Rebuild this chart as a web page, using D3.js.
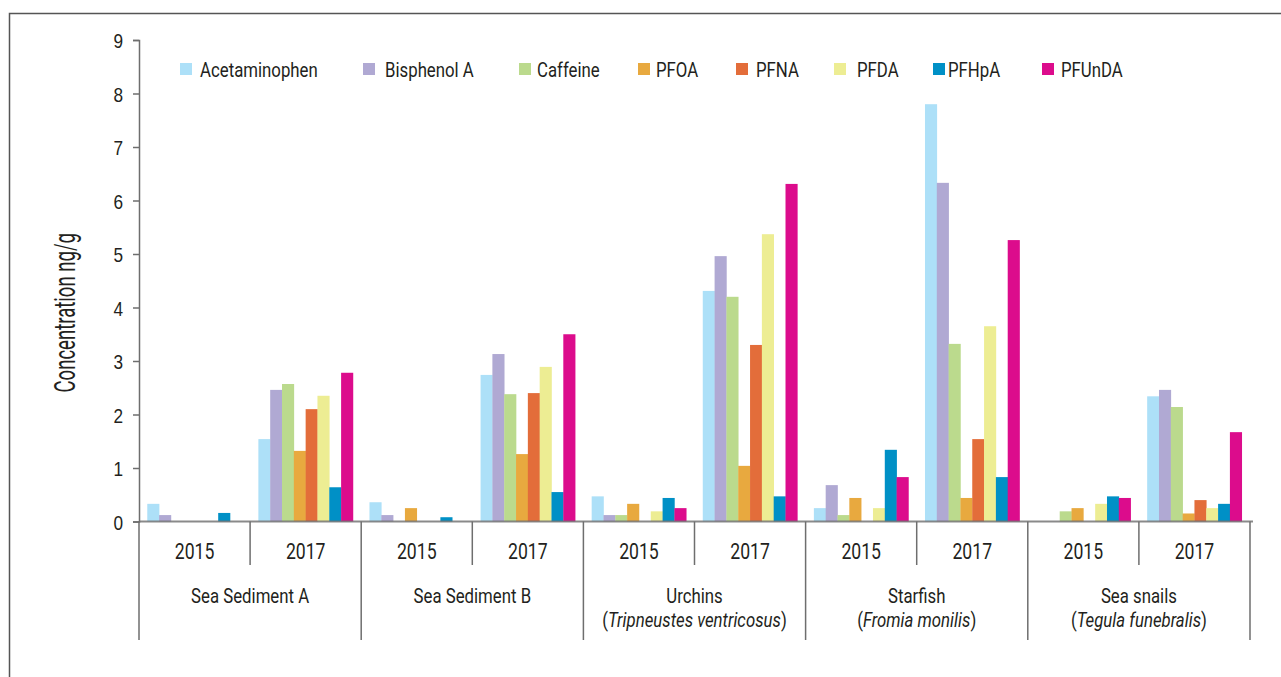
<!DOCTYPE html>
<html>
<head>
<meta charset="utf-8">
<script src="https://cdn.jsdelivr.net/npm/d3@7"></script>
<style>
	body { margin: 0; background: #fff; }
	svg { display: block; font-family: 'Liberation Sans Narrow', 'Arial Narrow', 'Roboto', sans-serif; }
</style>
</head>
<body>
<div id="chart"></div>
<script>
const series = ['Acetaminophen', 'Bisphenol A', 'Caffeine', 'PFOA', 'PFNA', 'PFDA', 'PFHpA', 'PFUnDA'];
const colors = ['#ade0f8', '#b0a9d3', '#bbda8d', '#e8a93f', '#e36d3a', '#eded93', '#0090c6', '#dc0c8c'];
const sites = ['Sea Sediment A', 'Sea Sediment B', 'Urchins', 'Starfish', 'Sea snails'];
const species = ['', '', 'Tripneustes ventricosus', 'Fromia monilis', 'Tegula funebralis'];
const years = ['2015', '2017'];
const yTicks = [0, 1, 2, 3, 4, 5, 6, 7, 8, 9];

// one row per site/year, values in series order
const seaSedimentA2015 = [0.33, 0.12, 0, 0, 0, 0, 0.16, 0];
const seaSedimentA2017 = [1.54, 2.46, 2.57, 1.32, 2.10, 2.35, 0.64, 2.78];
const seaSedimentB2015 = [0.36, 0.12, 0, 0.25, 0, 0, 0.08, 0];
const seaSedimentB2017 = [2.74, 3.13, 2.38, 1.26, 2.40, 2.89, 0.55, 3.50];
const urchins2015 = [0.47, 0.12, 0.12, 0.33, 0, 0.19, 0.44, 0.25];
const urchins2017 = [4.31, 4.96, 4.20, 1.04, 3.30, 5.37, 0.47, 6.31];
const starfish2015 = [0.25, 0.68, 0.12, 0.44, 0, 0.25, 1.34, 0.83];
const starfish2017 = [7.80, 6.33, 3.32, 0.44, 1.54, 3.65, 0.83, 5.26];
const seaSnails2015 = [0, 0, 0.19, 0.25, 0, 0.33, 0.47, 0.44];
const seaSnails2017 = [2.34, 2.46, 2.14, 0.15, 0.40, 0.25, 0.33, 1.67];

const values = [
	[seaSedimentA2015, seaSedimentA2017],
	[seaSedimentB2015, seaSedimentB2017],
	[urchins2015, urchins2017],
	[starfish2015, starfish2017],
	[seaSnails2015, seaSnails2017]
];

const width = 1281, height = 677;
const plot = { left: 139, right: 1250, top: 40, bottom: 521.5 };
const axisColor = '#6e6e6e';
const textColor = '#231f20';
const narrow = 0.82; // horizontal squeeze to mimic a condensed face

const svg = d3.select('#chart').append('svg')
	.attr('width', width)
	.attr('height', height);

// places a squeezed text at x, y
function condensed(sel, x, y, sx = narrow) {
	return sel.attr('transform', `translate(${x},${y}) scale(${sx},1)`);
}

// frame
svg.append('path')
	.attr('d', `M9.5,${height} V13.5 H${width}`)
	.attr('fill', 'none')
	.attr('stroke', '#555')
	.attr('stroke-width', 1.5);

const y = d3.scaleLinear().domain([0, 9]).range([plot.bottom, plot.top]);
const x0 = d3.scaleBand().domain(sites).range([plot.left, plot.right]);
const x1 = d3.scaleBand().domain(years).range([0, x0.bandwidth()]);
const x2 = d3.scaleBand().domain(series).range([0, x1.bandwidth()])
	.paddingInner(0).paddingOuter(0.7).align(0.5);

// bars
const rows = [];
sites.forEach((site, i) => {
	years.forEach((year, j) => {
		series.forEach((name, k) => {
			rows.push({ site, year, name, color: colors[k], value: values[i][j][k] });
		});
	});
});

svg.append('g').attr('class', 'bars')
	.selectAll('rect')
	.data(rows.filter((d) => d.value > 0))
	.enter()
	.append('rect')
	.attr('x', (d) => x0(d.site) + x1(d.year) + x2(d.name))
	.attr('y', (d) => y(d.value))
	.attr('width', x2.bandwidth() + 0.3)
	.attr('height', (d) => plot.bottom - y(d.value))
	.attr('fill', (d) => d.color);

// y axis
const yAxis = svg.append('g')
	.attr('transform', `translate(${plot.left},0)`)
	.call(d3.axisLeft(y).tickValues(yTicks).tickSize(6).tickFormat(d3.format('d')));
yAxis.select('.domain').attr('stroke', axisColor).attr('stroke-width', 1.5);
yAxis.selectAll('.tick line').attr('stroke', axisColor).attr('stroke-width', 1.5);
yAxis.selectAll('.tick text')
	.attr('x', null)
	.attr('dy', '0.36em')
	.attr('fill', textColor)
	.attr('font-size', 21)
	.attr('font-family', null)
	.attr('transform', `translate(-16,0) scale(${narrow},1)`);

svg.append('text')
	.attr('transform', `translate(75,${(plot.top + plot.bottom) / 2 + 32}) rotate(-90) scale(0.64,1)`)
	.attr('text-anchor', 'middle')
	.attr('fill', textColor)
	.attr('font-size', 29)
	.text('Concentration ng/g');

// x axis baseline
svg.append('line')
	.attr('x1', plot.left).attr('x2', plot.right + 3)
	.attr('y1', plot.bottom).attr('y2', plot.bottom)
	.attr('stroke', axisColor)
	.attr('stroke-width', 2)
	.attr('opacity', 0.8);

// site separators
const sepX = sites.map((s) => x0(s)).concat([plot.right]);
svg.append('g').selectAll('line')
	.data(sepX)
	.enter()
	.append('line')
	.attr('x1', (d) => d).attr('x2', (d) => d)
	.attr('y1', plot.bottom).attr('y2', 640)
	.attr('stroke', axisColor)
	.attr('stroke-width', 1.5);

// year separators and labels
const yearGroup = svg.append('g');
sites.forEach((site) => {
	yearGroup.append('line')
		.attr('x1', x0(site) + x1('2017')).attr('x2', x0(site) + x1('2017'))
		.attr('y1', plot.bottom).attr('y2', 565)
		.attr('stroke', axisColor)
		.attr('stroke-width', 1.5);
	years.forEach((year) => {
		yearGroup.append('text')
			.call(condensed, x0(site) + x1(year) + x1.bandwidth() / 2, 559, 0.8)
			.attr('text-anchor', 'middle')
			.attr('fill', textColor)
			.attr('font-size', 22)
			.text(year);
	});
});

// site labels
svg.append('g').selectAll('text')
	.data(sites)
	.enter()
	.append('text')
	.each(function (d) {
		condensed(d3.select(this), x0(d) + x0.bandwidth() / 2, 603, 0.84);
	})
	.attr('text-anchor', 'middle')
	.attr('fill', textColor)
	.attr('font-size', 20)
	.text((d) => d);

sites.forEach((site, i) => {
	if (!species[i]) return;
	const t = svg.append('text')
		.call(condensed, x0(site) + x0.bandwidth() / 2, 627, 0.84)
		.attr('text-anchor', 'middle')
		.attr('fill', textColor)
		.attr('font-size', 20);
	t.append('tspan').text('(');
	t.append('tspan').attr('font-style', 'italic').text(species[i]);
	t.append('tspan').text(')');
});

// legend
const legendX = [180, 363, 519, 638, 736, 834, 933, 1042];
const legendGap = [20, 22, 18, 18, 20, 23, 15, 19];
const legend = svg.append('g').selectAll('g')
	.data(series)
	.enter()
	.append('g')
	.attr('transform', (d, i) => `translate(${legendX[i]},63)`);

legend.append('rect')
	.attr('width', 12)
	.attr('height', 12)
	.attr('fill', (d, i) => colors[i]);

legend.append('text')
	.each(function (d, i) {
		condensed(d3.select(this), legendGap[i], 14, 0.84);
	})
	.attr('fill', textColor)
	.attr('font-size', 20)
	.text((d) => d);
</script>
</body>
</html>
